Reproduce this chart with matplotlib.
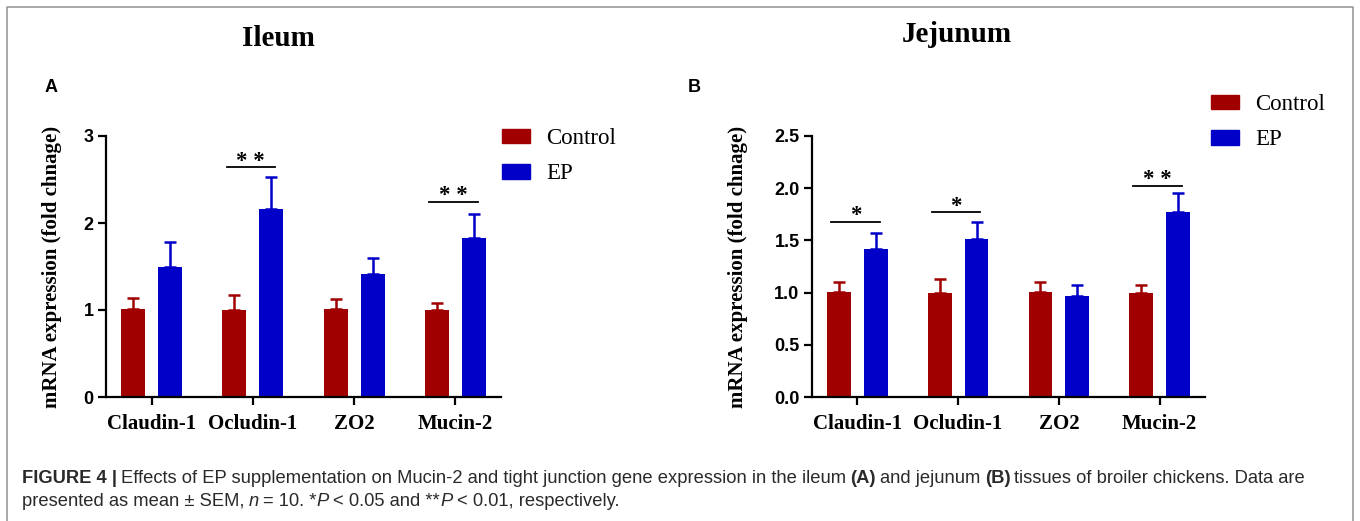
import matplotlib
matplotlib.use('Agg')
import matplotlib.pyplot as plt
import numpy as np
from matplotlib.patches import Patch
from matplotlib.text import Annotation

# data (mean and upper SEM)
genes = ['Claudin-1', 'Ocludin-1', 'ZO2', 'Mucin-2']
groups = ['Control', 'EP']

ileum_control = [1.01, 1.00, 1.01, 1.00]
ileum_control_sem = [0.13, 0.17, 0.12, 0.08]
ileum_ep = [1.49, 2.16, 1.41, 1.83]
ileum_ep_sem = [0.29, 0.37, 0.19, 0.27]

jejunum_control = [1.01, 1.00, 1.01, 1.00]
jejunum_control_sem = [0.09, 0.13, 0.09, 0.07]
jejunum_ep = [1.42, 1.51, 0.97, 1.77]
jejunum_ep_sem = [0.15, 0.17, 0.10, 0.18]

# gene index -> (marker, bracket height)
ileum_sig = {1: ('* *', 2.64), 3: ('* *', 2.24)}
jejunum_sig = {0: ('*', 1.68), 1: ('*', 1.77), 3: ('* *', 2.02)}

ileum_ticks = [0, 1, 2, 3]
jejunum_ticks = [0.0, 0.5, 1.0, 1.5, 2.0, 2.5]

RED = '#a00000'
BLUE = '#0000c8'
SERIF = 'Liberation Serif'
SANS = 'Liberation Sans'

W, H = 1360, 521
fig = plt.figure(figsize=(W / 100, H / 100), dpi=100)


def px(x, y):
    # pixel position (from top-left) -> figure fraction
    return x / W, 1 - y / H


def panel(rect, ctrl, ctrl_sem, ep, ep_sem, sig, ticks, tickfmt, ylab_x):
    ax = fig.add_axes(rect)
    x = np.arange(len(genes))
    off, bw = 0.183, 0.235
    ax.bar(x - off, ctrl, bw, color=RED, zorder=2, label=groups[0])
    ax.bar(x + off, ep, bw, color=BLUE, zorder=2, label=groups[1])
    ax.errorbar(x - off, ctrl, yerr=[np.zeros(len(ctrl)), ctrl_sem], fmt='none',
                ecolor=RED, elinewidth=1.8, capsize=4, capthick=1.8, zorder=3)
    ax.errorbar(x + off, ep, yerr=[np.zeros(len(ep)), ep_sem], fmt='none',
                ecolor=BLUE, elinewidth=1.8, capsize=4, capthick=1.8, zorder=3)
    for i, (mark, yv) in sig.items():
        ax.plot([i - 0.26, i + 0.22], [yv, yv], color='black', lw=1.3)
        ax.annotate(mark, (i - 0.02, yv), xytext=(0, 0.5), textcoords='offset points',
                    ha='center', va='baseline', family=SERIF, fontweight='bold',
                    fontsize=16.5)
    ax.set_xlim(-0.45, 3.45)
    ax.set_ylim(0, ticks[-1])
    ax.set_yticks(ticks)
    ax.set_yticklabels([tickfmt.format(t) for t in ticks], family=SANS,
                       fontweight='bold', fontsize=13)
    ax.set_xticks(x)
    ax.set_xticklabels(genes, family=SERIF, fontweight='bold', fontsize=15)
    for s in ['top', 'right']:
        ax.spines[s].set_visible(False)
    for s in ['left', 'bottom']:
        ax.spines[s].set_linewidth(1.6)
    ax.tick_params(width=1.6, length=6, pad=3)
    ax.tick_params(axis='x', pad=6)
    ax.set_ylabel('mRNA expression (fold chnage)', family=SERIF, fontweight='bold',
                  fontsize=15)
    ax.yaxis.set_label_coords(ylab_x, 0.5)
    return ax


def legend(ax, xpx, ypx):
    handles = [Patch(color=RED), Patch(color=BLUE)]
    ax.legend(handles, groups, loc='upper left', bbox_to_anchor=px(xpx, ypx),
              bbox_transform=fig.transFigure, frameon=False, borderpad=0,
              borderaxespad=0, handlelength=1.22, handleheight=0.6,
              handletextpad=0.7, labelspacing=0.63,
              prop={'family': SERIF, 'size': 16.5})


bottom = 1 - 397 / H
height = (397 - 136) / H
axA = panel([106 / W, bottom, 395 / W, height], ileum_control, ileum_control_sem,
            ileum_ep, ileum_ep_sem, ileum_sig, ileum_ticks, '{:g}', -0.112)
axB = panel([812 / W, bottom, 393 / W, height], jejunum_control, jejunum_control_sem,
            jejunum_ep, jejunum_ep_sem, jejunum_sig, jejunum_ticks, '{:.1f}', -0.163)
legend(axA, 502, 128)
legend(axB, 1211, 94)

fig.text(*px(278, 38), 'Ileum', ha='center', va='center', family=SERIF,
         fontweight='bold', fontsize=21)
fig.text(*px(957, 34), 'Jejunum', ha='center', va='center', family=SERIF,
         fontweight='bold', fontsize=21)
fig.text(*px(45, 87), 'A', ha='left', va='center', family=SANS,
         fontweight='bold', fontsize=13)
fig.text(*px(688, 87), 'B', ha='left', va='center', family=SANS,
         fontweight='bold', fontsize=13)

# frame round the figure
x0, y0 = px(7, 7)
x1, _ = px(1353, 0)
fig.add_artist(plt.Line2D([x0, x0, x1, x1], [0, y0, y0, 0], color='#9a9a9a',
                          lw=1.2, transform=fig.transFigure))

# caption, built from pieces so bold/italic parts sit inline
CAP = SANS
CAP_SIZE = 13.2


def chain(pieces, xpx, ypx):
    prev = None
    for txt, style, gap in pieces:
        kw = dict(family=CAP, fontsize=CAP_SIZE, va='bottom', ha='left',
                  color='#2a2a2a')
        if style == 'b':
            kw['fontweight'] = 'bold'
        elif style == 'i':
            kw['fontstyle'] = 'italic'
        if prev is None:
            prev = fig.text(*px(xpx, ypx), txt, **kw)
        else:
            prev = fig.add_artist(Annotation(txt, xy=(1, 0), xycoords=prev,
                                             xytext=(gap, 0),
                                             textcoords='offset points', **kw))


sp = 3.0
chain([('FIGURE 4 |', 'b', 0),
       ('Effects of EP supplementation on Mucin-2 and tight junction gene expression in the ileum', '', sp),
       ('(A)', 'b', sp),
       ('and jejunum', '', sp),
       ('(B)', 'b', sp),
       ('tissues of broiler chickens. Data are', '', sp)], 22, 487)
chain([('presented as mean \u00b1 SEM,', '', 0),
       ('n', 'i', sp),
       ('= 10. *', '', sp),
       ('P', 'i', 0.3),
       ('< 0.05 and **', '', sp),
       ('P', 'i', 0.3),
       ('< 0.01, respectively.', '', sp)], 22, 510)

fig.savefig('out.png', dpi=100)
